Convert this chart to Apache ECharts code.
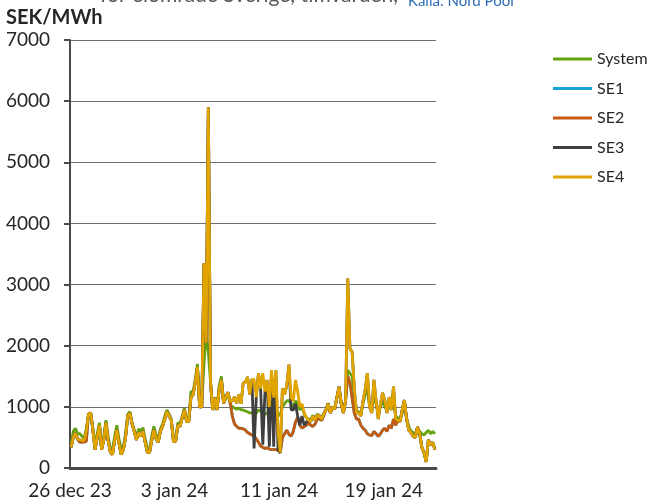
<html>

<head>
    <meta charset="utf-8" />
    <style>
        html, body { margin: 0; padding: 0; background: #fff; }
        #chart { width: 653px; height: 504px; }
    </style>
    <script src="https://cdn.jsdelivr.net/npm/echarts@6/dist/echarts.min.js"></script>
</head>

<body>
    <div id="chart"></div>
    <script type="text/javascript">
        // tick labels on the time axis, one every 8 days (192 h)
        var dayLabels = ['26 dec 23', '3 jan 24', '11 jan 24', '19 jan 24'];
        // sample hours
        var hoursOfDay = [2, 6, 10, 14, 18, 22];

        var systemPrice = [
            380, 600, 650, 560, 560, 520,
            480, 650, 880, 900, 660, 380,
            560, 740, 400, 520, 780, 520,
            320, 300, 520, 700, 480, 300,
            360, 560, 880, 920, 740, 620,
            500, 640, 600, 660, 480, 320,
            300, 520, 680, 540, 470, 640,
            720, 850, 950, 880, 800, 480,
            480, 740, 720, 850, 980, 800,
            800, 1250, 1250, 1450, 1700, 1050,
            1050, 1700, 2180, 1900, 1400, 1000,
            1150, 1000, 1350, 1500, 1100, 1150,
            1200, 1050, 1000, 980, 960, 980,
            950, 950, 930, 920, 900, 900,
            880, 900, 950, 930, 900, 880,
            900, 950, 1000, 980, 950, 900,
            850, 1000, 1050, 1100, 1100, 1050,
            1000, 1100, 1050, 950, 1000, 880,
            820, 800, 780, 860, 800, 880,
            860, 820, 900, 960, 1060, 920,
            1000, 980, 1150, 1300, 1050, 920,
            1100, 1600, 1550, 1500, 1200, 920,
            920, 880, 1050, 1200, 1300, 1000,
            920, 1200, 1050, 900, 1000, 1100,
            1000, 950, 1050, 950, 1100, 850,
            820, 800, 900, 1000, 820, 680,
            600, 580, 560, 650, 600, 560,
            540, 580, 620, 560, 600, 560
        ];

        var se1 = [
            340, 500, 570, 470, 425, 425,
            425, 440, 880, 900, 620, 300,
            500, 700, 300, 450, 740, 450,
            260, 220, 450, 620, 400, 220,
            300, 500, 850, 900, 720, 600,
            460, 580, 520, 600, 420, 260,
            250, 450, 620, 480, 420, 600,
            680, 800, 920, 850, 780, 430,
            440, 700, 680, 820, 950, 760,
            760, 1150, 1200, 1400, 1650, 1000,
            1000, 3350, 2050, 5900, 1400, 950,
            1150, 950, 1300, 1440, 1060, 1150,
            1240, 1080, 850, 720, 680, 650,
            650, 640, 620, 580, 560, 540,
            520, 480, 420, 360, 340, 320,
            330, 310, 300, 300, 300, 290,
            250, 500, 560, 620, 550, 520,
            600, 750, 830, 700, 650, 680,
            700, 740, 700, 680, 720, 800,
            800, 780, 860, 950, 1050, 900,
            1000, 960, 1150, 1330, 1050, 900,
            1100, 1500, 1400, 1150, 900, 800,
            800, 700, 650, 620, 560, 540,
            530, 600, 560, 520, 560, 620,
            650, 600, 700, 650, 800, 700,
            780, 760, 950, 1110, 800, 620,
            580, 520, 500, 670, 560, 340,
            250, 100, 460, 380, 420, 300
        ];

        var se2 = [
            340, 500, 570, 470, 425, 425,
            425, 440, 880, 900, 620, 300,
            500, 700, 300, 450, 740, 450,
            260, 220, 450, 620, 400, 220,
            300, 500, 850, 900, 720, 600,
            460, 580, 520, 600, 420, 260,
            250, 450, 620, 480, 420, 600,
            680, 800, 920, 850, 780, 430,
            440, 700, 680, 820, 950, 760,
            760, 1150, 1200, 1400, 1650, 1000,
            1000, 3350, 2050, 5900, 1400, 950,
            1150, 950, 1300, 1440, 1060, 1150,
            1240, 1080, 850, 720, 680, 650,
            650, 640, 620, 580, 560, 540,
            520, 480, 420, 360, 340, 320,
            330, 310, 300, 300, 300, 290,
            250, 500, 560, 620, 550, 520,
            600, 750, 830, 700, 650, 680,
            700, 740, 700, 680, 720, 800,
            800, 780, 860, 950, 1050, 900,
            1000, 960, 1150, 1330, 1050, 900,
            1100, 1500, 1400, 1150, 900, 800,
            800, 700, 650, 620, 560, 540,
            530, 600, 560, 520, 560, 620,
            650, 600, 700, 650, 800, 700,
            780, 760, 950, 1110, 800, 620,
            580, 520, 500, 670, 560, 340,
            250, 100, 460, 380, 420, 300
        ];

        var se3 = [
            340, 500, 570, 470, 460, 450,
            450, 600, 880, 900, 620, 300,
            500, 700, 300, 450, 740, 450,
            260, 220, 450, 620, 400, 220,
            300, 500, 850, 900, 720, 600,
            460, 580, 520, 600, 420, 260,
            250, 450, 620, 480, 420, 600,
            680, 800, 920, 850, 780, 430,
            440, 700, 680, 820, 950, 760,
            760, 1150, 1200, 1400, 1650, 1000,
            1000, 3350, 2050, 5900, 1400, 950,
            1150, 950, 1300, 1440, 1060, 1150,
            1240, 1080, 1100, 1160, 1060, 1200,
            1050, 1390, 1400, 1490, 1200, 1450,
            320, 1160, 1550, 1300, 380, 1250,
            1440, 350, 1600, 350, 1600, 300,
            250, 1300, 1200, 1350, 1690, 950,
            950, 1050, 850, 700, 850, 700,
            750, 780, 760, 850, 780, 870,
            850, 800, 880, 950, 1050, 900,
            1000, 960, 1150, 1330, 1050, 900,
            1100, 3100, 1950, 1900, 1300, 900,
            900, 850, 1100, 1280, 1550, 1000,
            900, 1440, 1100, 800, 1050, 1230,
            1100, 900, 1160, 950, 1330, 800,
            780, 760, 950, 1110, 800, 620,
            580, 520, 500, 670, 560, 340,
            250, 100, 460, 380, 420, 300
        ];

        var se4 = [
            340, 500, 570, 470, 460, 450,
            450, 600, 880, 900, 620, 300,
            500, 700, 300, 450, 740, 450,
            260, 220, 450, 620, 400, 220,
            300, 500, 850, 900, 720, 600,
            460, 580, 520, 600, 420, 260,
            250, 450, 620, 480, 420, 600,
            680, 800, 920, 850, 780, 430,
            440, 700, 680, 820, 950, 760,
            760, 1150, 1200, 1400, 1650, 1000,
            1000, 3350, 2050, 5900, 1400, 950,
            1150, 950, 1300, 1440, 1060, 1150,
            1240, 1080, 1100, 1160, 1060, 1200,
            1050, 1390, 1400, 1490, 1200, 1450,
            1450, 1160, 1550, 1300, 1550, 1250,
            1440, 1000, 1600, 1150, 1600, 600,
            250, 1300, 1200, 1350, 1690, 1150,
            1100, 1440, 1250, 1000, 1050, 900,
            830, 780, 760, 850, 780, 870,
            850, 800, 880, 950, 1050, 900,
            1000, 960, 1150, 1330, 1050, 900,
            1100, 3100, 1950, 1900, 1300, 900,
            900, 850, 1100, 1280, 1550, 1000,
            900, 1440, 1100, 800, 1050, 1230,
            1100, 900, 1160, 950, 1330, 800,
            780, 760, 950, 1110, 800, 620,
            580, 520, 500, 670, 560, 340,
            250, 100, 460, 380, 420, 300
        ];

        var seriesNames = ['System', 'SE1', 'SE2', 'SE3', 'SE4'];
        var seriesColors = ['#64a30f', '#17a6d6', '#c55a11', '#3f3f3f', '#e2a500'];
        var seriesValues = [systemPrice, se1, se2, se3, se4];

        var font = 'Lato, "Open Sans", sans-serif';

        /* x = hours since 26 dec 00:00 */
        function toPoints(values) {
            return values.map(function (v, i) {
                var day = Math.floor(i / hoursOfDay.length);
                return [day * 24 + hoursOfDay[i % hoursOfDay.length], v];
            });
        }

        var series = seriesNames.map(function (name, idx) {
            return {
                name: name,
                type: 'line',
                data: toPoints(seriesValues[idx]),
                color: seriesColors[idx],
                showSymbol: false,
                symbol: 'none',
                lineStyle: { width: 2.8, color: seriesColors[idx] },
                silent: true,
                animation: false
            };
        });

        var chart = echarts.init(document.getElementById('chart'));
        var option = {
            backgroundColor: '#fff',
            animation: false,
            grid: { left: 70, top: 40, right: 217, bottom: 36, outerBoundsMode: 'none' },
            graphic: [
                {
                    type: 'text', left: 100, top: -15,
                    style: { text: 'för elområde Sverige, timvärden,', fontFamily: font, fontSize: 21, fill: '#595959' }
                },
                {
                    type: 'text', left: 408, top: -6,
                    style: { text: 'Källa: Nord Pool', fontFamily: font, fontSize: 15, fill: '#2f6db5' }
                },
                {
                    type: 'text', left: 6, top: 8,
                    style: { text: 'SEK/MWh', fontFamily: font, fontSize: 20, fontWeight: 'bold', fill: '#262626' }
                }
            ],
            legend: {
                orient: 'vertical',
                left: 553,
                top: 51,
                padding: 0,
                icon: 'rect',
                itemWidth: 39,
                itemHeight: 3,
                itemGap: 13.5,
                textStyle: { fontFamily: font, fontSize: 16, lineHeight: 16, color: '#262626' },
                data: seriesNames
            },
            xAxis: {
                type: 'value',
                min: 0,
                max: 672,
                interval: 192,
                axisLine: { show: true, lineStyle: { color: '#4a4a4a', width: 3 } },
                axisTick: { show: false },
                splitLine: { show: false },
                axisLabel: {
                    margin: 13,
                    fontFamily: font,
                    fontSize: 19,
                    color: '#262626',
                    formatter: function (v) {
                        return v % 192 === 0 ? (dayLabels[v / 192] || '') : '';
                    }
                }
            },
            yAxis: {
                type: 'value',
                min: 0,
                max: 7000,
                interval: 1000,
                axisLine: { show: true, lineStyle: { color: '#4a4a4a', width: 2 } },
                axisTick: { show: true, length: 6, lineStyle: { color: '#4a4a4a', width: 2 } },
                splitLine: { show: true, lineStyle: { color: '#6e6e6e', width: 1 } },
                axisLabel: {
                    margin: 20, fontFamily: font, fontSize: 19, color: '#262626',
                    formatter: function (v) { return String(v); }
                }
            },
            series: series
        };
        chart.setOption(option);
    </script>
</body>

</html>
